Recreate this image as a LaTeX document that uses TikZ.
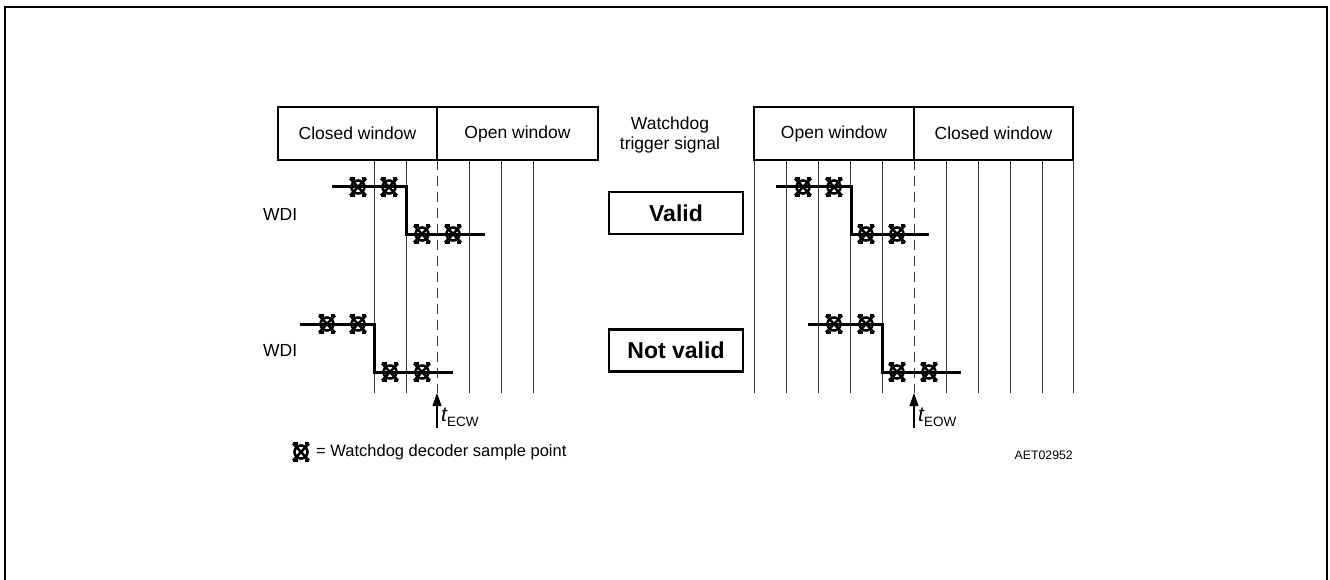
\documentclass[tikz,border=0pt]{standalone}
\usepackage{fontspec}
\setmainfont{Liberation Sans}
\usetikzlibrary{arrows.meta}
\tikzset{
  frame/.style={line width=2pt},
  hdr/.style={line width=2.6pt},
  grid/.style={line width=1pt, black!80},
  gdash/.style={line width=1pt, black!80, dash pattern=on 10pt off 6pt},
  wave/.style={line width=3pt, line join=miter},
  lbl/.style={font=\fontsize{17.5}{20}\selectfont, inner sep=0pt},
  big/.style={font=\fontsize{23}{26}\selectfont\bfseries, inner sep=0pt},
  vbox/.style={draw, line width=2.6pt, minimum width=134pt, minimum height=42pt, inner sep=0pt},
  tarrow/.style={line width=1.1pt, -{Triangle[length=13pt,width=9pt]}},
  samp/.pic={
    \draw[line width=2.6pt] (0,0) circle[radius=6.5pt];
    \draw[line width=2.6pt] (-8,-8.5) -- (8,8.5) (-8,8.5) -- (8,-8.5);
    \draw[line width=2.4pt] (-8,-8.5) -- (-3.5,-8.5) (3.5,-8.5) -- (8,-8.5) (-8,8.5) -- (-3.5,8.5) (3.5,8.5) -- (8,8.5);
  }
}
\begin{document}
\begin{tikzpicture}[x=1pt,y=-1pt]
\useasboundingbox (0,0) rectangle (1330,580);
% outer frame (open at bottom)
\draw[frame] (5,580) -- (5,7) -- (1327,7) -- (1327,580);

% ---------- left panel ----------
\draw[hdr] (278,107) rectangle (598,160);
\draw[hdr] (437,107) -- (437,160);
\node[lbl] (lcw) at (357.5,133.5) {Closed window};
\node[lbl] (low) at (517.5,133.5) {Open window};
\foreach \x in {374,406,469,501,533} \draw[grid] (\x,160) -- (\x,393);
\draw[gdash] (437,160) -- (437,393);

% upper WDI (left)
\draw[wave] (332,187) -- (406,187) -- (406,234) -- (485,234);
\foreach \x/\y in {358/187,389/187,422/234,453/234} \pic at (\x,\y) {samp};
% lower WDI (left)
\draw[wave] (300,324) -- (374,324) -- (374,372) -- (453,372);
\foreach \x/\y in {327/324,358/324,390/372,422/372} \pic at (\x,\y) {samp};

\node[lbl, anchor=west] (wdi1) at (263,214) {WDI};
\node[lbl, anchor=west] (wdi2) at (263,350) {WDI};

\coordinate (ecwtip) at (437,393);
\coordinate (ecwend) at (437,428);
\draw[tarrow] (ecwend) -- (ecwtip);
\node[anchor=base west, inner sep=0pt] (tecw) at (441,421)
  {{\fontsize{21}{21}\selectfont\itshape t}\raisebox{-5pt}{\fontsize{13.5}{13.5}\selectfont ECW}};

% ---------- middle ----------
\node[lbl, align=center] (wts) at (670,135) {Watchdog\\trigger signal};
\node[vbox, big] (valid) at (676,213) {Valid};
\node[vbox, big] (nvalid) at (676,350.5) {Not valid};

% ---------- right panel ----------
\draw[hdr] (754,107) rectangle (1073,160);
\draw[hdr] (914,107) -- (914,160);
\node[lbl] (rov) at (834,133.5) {Open window};
\node[lbl] (rcw) at (993.5,133.5) {Closed window};
\foreach \x in {754,786,818,850,882,946,978,1010,1042,1073} \draw[grid] (\x,160) -- (\x,393);
\draw[gdash] (914,160) -- (914,393);

% upper WDI (right)
\draw[wave] (776,187) -- (851,187) -- (851,234) -- (929,234);
\foreach \x/\y in {803/187,834/187,866/234,897/234} \pic at (\x,\y) {samp};
% lower WDI (right)
\draw[wave] (808,324) -- (882,324) -- (882,372) -- (961,372);
\foreach \x/\y in {834/324,866/324,897/372,929/372} \pic at (\x,\y) {samp};

\coordinate (eowtip) at (914,393);
\coordinate (eowend) at (914,428);
\draw[tarrow] (eowend) -- (eowtip);
\node[anchor=base west, inner sep=0pt] (teow) at (918,421)
  {{\fontsize{21}{21}\selectfont\itshape t}\raisebox{-5pt}{\fontsize{13.5}{13.5}\selectfont EOW}};

% ---------- legend ----------
\pic at (301,452) {samp};
\node[anchor=west, inner sep=0pt, font=\fontsize{16.5}{18}\selectfont] (leg) at (316,452) {= Watchdog decoder sample point};
\node[anchor=east, inner sep=0pt, font=\fontsize{12.3}{14}\selectfont] (aet) at (1073,455) {AET02952};
\end{tikzpicture}
\end{document}
